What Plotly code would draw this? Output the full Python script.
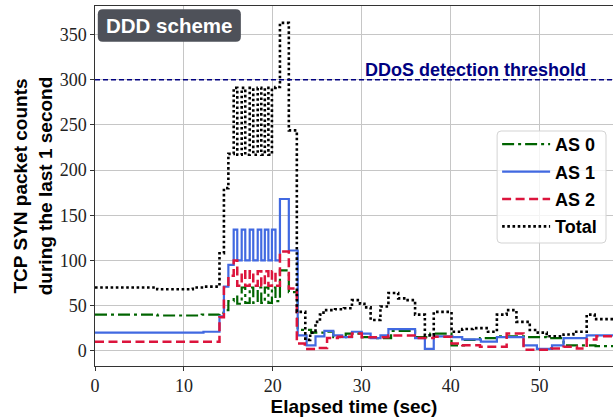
import plotly.graph_objects as go

# ---------------- data (step series: change-point times and values) ----------------
as0_t = [0, 7, 12, 14.0, 14.5, 15.0, 15.6, 16.0, 16.5, 16.9, 17.4, 17.8, 18.3, 18.7, 19.1, 19.5, 19.9, 20.3,
         20.8, 21.8, 22.8, 24.3, 25.7, 26.8, 28.2, 29.8, 31.5, 33.3, 36.0, 37.7, 40.1, 41.5, 43.3, 45.2,
         48.5, 50.8, 52.7, 56.3, 58.3]
as0_v = [40, 39, 40, 42, 45, 55, 60, 52, 70, 53, 70, 53, 70, 53, 70, 53, 70, 55,
         89, 65, 23, 20, 21, 15, 19, 15, 14, 22, 15, 19, 6, 12, 14, 16,
         15, 14, 6, 5, 5]

as1_t = [0, 12.2, 14.0, 14.5, 15.0, 15.6, 16.0, 16.5, 16.9, 17.4, 17.8, 18.3, 18.7, 19.1, 19.5, 19.9, 20.3,
         20.8, 21.8, 22.8, 23.8, 24.8, 25.8, 26.8, 27.8, 28.9, 30.0, 31.0, 32.1, 33.0, 36.0, 37.1, 38.1,
         40.2, 41.3, 43.4, 45.2, 48.2, 49.7, 51.4, 52.7, 55.3, 58.3]
as1_v = [20, 21, 38, 71, 95, 134, 100, 134, 100, 134, 100, 134, 100, 134, 100, 134, 100,
         168, 111, 17, 6, 16, 22, 17, 15, 21, 19, 14, 17, 24, 14, 2, 16,
         15, 12.5, 10, 15, 6, 2, 6, 14, 17, 17]

as2_t = [0, 14.0, 14.5, 15.0, 15.6, 16.0, 16.5, 16.9, 17.4, 17.8, 18.3, 18.7, 19.1, 19.5, 19.9, 20.3,
         20.8, 21.8, 22.7, 23.6, 25.0, 26.1, 27.3, 28.9, 30.0, 33.0, 36.1, 38.1, 40.1, 41.3, 43.3,
         46.3, 48.2, 51.3, 52.7, 54.2, 55.3, 56.4, 58.3]
as2_v = [10, 37, 70, 83, 100, 72, 88, 72, 88, 72, 88, 72, 88, 72, 88, 72,
         110, 69, 8, 2, 3, 14, 15.5, 19, 15, 17, 14, 15.5, 8, 6, 4.5,
         19, 1, 2.6, 4.5, 2.6, 12.5, 16, 16]

total_t = [0, 7.0, 11.0, 12.2, 14.0, 14.5, 15.0, 15.6, 16.0, 16.5, 16.9, 17.4, 17.8, 18.3, 18.7, 19.1,
           19.5, 19.9, 20.3, 20.8, 21.8, 22.7, 23.65, 24.2, 24.8, 25.3, 25.7, 27.0, 28.0, 28.9, 29.8,
           30.3, 31.0, 32.1, 33.0, 34.1, 35.0, 36.0, 37.1, 38.1, 40.1, 41.3, 42.5, 44.2, 45.2, 46.3,
           47.4, 48.9, 49.8, 50.8, 52.7, 53.8, 55.3, 56.2, 58.3]
total_v = [70, 68, 70, 71, 108, 180, 218, 291, 217, 291, 217, 291, 217, 291, 217, 291,
           217, 291, 292, 363, 244, 43, 12, 20, 32, 40, 45, 46, 47, 56, 52,
           48, 34, 49, 64, 58, 56, 40, 17, 43, 21, 24, 25, 21, 40, 45,
           32, 23, 20, 16, 18, 21, 40, 35, 35]

series_names = ["AS 0", "AS 1", "AS 2", "Total"]
threshold = 300
x_ticks = [0, 10, 20, 30, 40, 50]
y_ticks = [0, 50, 100, 150, 200, 250, 300, 350]
x_range = [0, 58.26]
y_range = [-16.9, 381.7]

# ---------------- figure ----------------
W, H = 613, 420
L, R, T, B = 94.5, 0, 6, 54
PW, PH = W - L - R, H - T - B

styles = [
    dict(color="#006400", width=2.2, dash="12px,4px,3px,4px"),
    dict(color="#4169E1", width=2.2, dash="solid"),
    dict(color="#DC143C", width=2.5, dash="9px,4.5px"),
    dict(color="black", width=2.6, dash="2.6px,2.6px"),
]
data = [(as0_t, as0_v), (as1_t, as1_v), (as2_t, as2_v), (total_t, total_v)]

fig = go.Figure()
for i, ((tx, vy), name, st) in enumerate(zip(data, series_names, styles)):
    fig.add_trace(go.Scatter(x=tx, y=vy, mode="lines", name=name, legendgroup=f"g{i}",
                             line=dict(shape="hv", **st)))


def pp(px, py):
    return (px - L) / PW, (H - B - py) / PH


def rounded_path(bx0, by0, bx1, by1, rad):
    rx, ry = rad / PW, rad / PH
    X0, Yt = pp(bx0, by0)
    X1, Yb = pp(bx1, by1)
    return (f"M {X0+rx},{Yt} L {X1-rx},{Yt} Q {X1},{Yt} {X1},{Yt-ry} "
            f"L {X1},{Yb+ry} Q {X1},{Yb} {X1-rx},{Yb} "
            f"L {X0+rx},{Yb} Q {X0},{Yb} {X0},{Yb+ry} "
            f"L {X0},{Yt-ry} Q {X0},{Yt} {X0+rx},{Yt} Z")


# threshold line + label
fig.add_shape(type="line", xref="paper", x0=0, x1=1, yref="y", y0=threshold, y1=threshold,
              line=dict(color="#000080", width=1.5, dash="5px,3px"))
fig.add_annotation(xref="paper", x=(475 - L) / PW, yref="y", y=311, showarrow=False,
                   xanchor="center", yanchor="middle",
                   text="<b>DDoS detection threshold</b>",
                   font=dict(family="Liberation Sans", size=18, color="#000080"))

# rounded label box "DDD scheme"
fig.add_shape(type="path", xref="paper", yref="paper", path=rounded_path(97.3, 9.3, 240.5, 41.7, 5),
              fillcolor="#4e5159", line=dict(width=0), layer="above")
cx, cy = pp((97.3 + 240.5) / 2, (9.3 + 41.7) / 2)
fig.add_annotation(xref="paper", yref="paper", x=cx, y=cy, showarrow=False,
                   xanchor="center", yanchor="middle",
                   text="<b>DDD scheme</b>",
                   font=dict(family="Liberation Sans", size=20.5, color="white"))

# legend frame (rounded, semi-transparent)
fig.add_shape(type="path", xref="paper", yref="paper", path=rounded_path(497, 131, 606, 243, 4),
              fillcolor="rgba(255,255,255,0.8)", line=dict(color="#d3d3d3", width=1), layer="above")

axis_common = dict(showgrid=True, gridcolor="#c6c6c6", gridwidth=1, zeroline=False,
                   showline=True, linecolor="#333333", linewidth=1.3,
                   ticks="outside", ticklen=3.5, tickwidth=1, tickcolor="#333333",
                   tickfont=dict(family="Liberation Serif", size=18, color="#222222"))

fig.update_xaxes(range=x_range, tickvals=x_ticks, mirror=True,
                 title=dict(text="<b>Elapsed time (sec)</b>", standoff=1,
                            font=dict(family="Liberation Sans", size=19, color="black")),
                 **axis_common)
fig.update_yaxes(range=y_range, tickvals=y_ticks,
                 title=dict(text="<b>TCP SYN packet counts<br>during the last 1 second</b>", standoff=2,
                            font=dict(family="Liberation Sans", size=19, color="black")),
                 **axis_common)

fig.update_layout(
    width=W, height=H,
    margin=dict(l=L, r=R, t=T, b=B, pad=0),
    plot_bgcolor="white", paper_bgcolor="white",
    legend=dict(x=(497 - L) / PW, y=(H - B - 126) / PH, xanchor="left", yanchor="top",
                bgcolor="rgba(0,0,0,0)", borderwidth=0, tracegroupgap=1, itemwidth=48,
                font=dict(family="Liberation Sans", size=18, color="black", weight="bold")),
)

fig.write_html("out.html")
